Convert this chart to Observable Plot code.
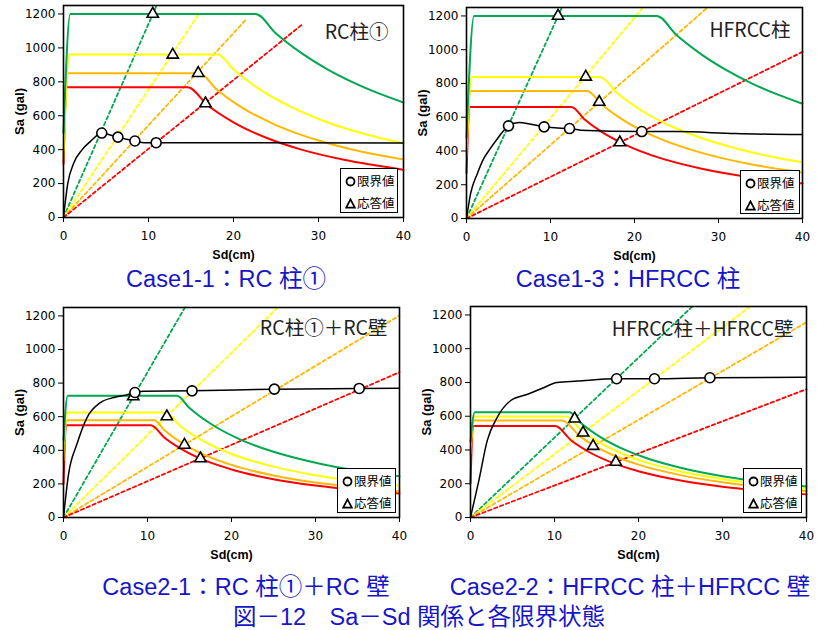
<!DOCTYPE html>
<html>
<head>
<meta charset="utf-8">
<script src="https://cdn.jsdelivr.net/npm/d3@7"></script>
<script src="https://cdn.jsdelivr.net/npm/@observablehq/plot@0.6"></script>
<style>
  html, body { margin: 0; padding: 0; background: #fff; }
  #root { position: relative; width: 817px; height: 630px; overflow: hidden; background: #fff; }
  .panel { position: absolute; }
  .panel svg { overflow: visible; }
  .legend { position: absolute; box-sizing: border-box; border: 1.6px solid #000; background: #fff;
            font-family: "Noto Sans CJK JP", sans-serif; font-size: 12.5px; color: #000; }
  .legend .item { position: absolute; left: 4px; display: flex; align-items: center; gap: 1px; line-height: 14px; white-space: nowrap; }
  .caption { position: absolute; text-align: center; white-space: nowrap; color: #1616c8;
             font-family: "Liberation Sans", "Noto Sans CJK JP", sans-serif; font-size: 23.5px; line-height: 28px; }
</style>
</head>
<body>
<div id="root"></div>
<script>
// ---------- tick labels & texts ----------
const xTicks = [0, 10, 20, 30, 40];
const yTicks = [0, 200, 400, 600, 800, 1000, 1200];
const panelLabels = ["RC柱①", "HFRCC柱", "RC柱①＋RC壁", "HFRCC柱＋HFRCC壁"];
const caseTitles = ["Case1-1：RC 柱①", "Case1-3：HFRCC 柱", "Case2-1：RC 柱①＋RC 壁", "Case2-2：HFRCC 柱＋HFRCC 壁"];
const figTitle = "図－12　Sa－Sd 関係と各限界状態";
const legendLabels = ["限界値", "応答値"];
const xLabel = "Sd(cm)";
const yLabel = "Sa (gal)";

// ---------- Case1-1 : RC柱① ----------
const p1Green  = [[0,500],[0.8,1200],[22.6,1200],[25,1085],[28,969],[31,875],[34,798],[37,733],[40,678]];
const p1Yellow = [[0,400],[0.7,961],[18.15,961],[20,872],[23,758],[26,671],[30,581],[35,498],[40,437]];
const p1Orange = [[0,350],[0.5,851],[16.0,851],[18,756],[21,648],[25,545],[30,454],[35,389],[40,342]];
const p1Red    = [[0,315],[0.4,768],[14.6,768],[17,660],[20,561],[24,467],[28,400],[33,340],[40,282]];
const p1Black  = [[0,0],[0.5,200],[1.2,320],[2.2,400],[3.2,450],[4.5,498],[5.5,487],[6.4,474],[7.4,461],[8.4,451],[9.5,441],[10.9,441],[40,440]];
const p1Circles   = [[4.5,498],[6.4,474],[8.4,451],[10.9,441]];
const p1Triangles = [[10.5,1200],[12.85,959],[15.85,851],[16.7,672]];
const p1DashEnds  = [[10.95,1250],[16.0,1206],[21.45,1166],[28.05,1137]];

// ---------- Case1-3 : HFRCC柱 ----------
const p2Green  = [[0,480],[0.9,1200],[22.65,1200],[25,1087],[28,971],[31,877],[34,799],[37,735],[40,680]];
const p2Yellow = [[0,420],[0.6,839],[15.87,839],[18,740],[21,634],[25,533],[30,444],[35,380],[40,333]];
const p2Orange = [[0,370],[0.5,756],[14.4,756],[16,680],[19,573],[23,473],[28,389],[34,320],[40,273]];
const p2Red    = [[0,270],[0.4,661],[12.5,661],[14,590],[16,516],[19,435],[23,359],[28,295],[34,243],[40,207]];
const p2Black  = [[0,0],[0.5,150],[1.3,267],[2.0,350],[2.7,405],[3.7,474],[5.0,549],[6.3,568],[7.5,560],[9.24,543],[10.5,537],[12.26,533],[13.6,523],[20.87,515],[25,515],[32,503],[40,497]];
const p2Circles   = [[5.0,549],[9.24,543],[12.26,533],[20.87,515]];
const p2Triangles = [[10.9,1200],[14.2,839],[15.8,690],[18.25,450]];
const p2DashEnds  = [[11.35,1250],[21.0,1250],[28.7,1250],[40,987]];

// ---------- Case2-1 : RC柱①＋RC壁 ----------
const p3Green  = [[0,460],[0.5,724],[13.5,724],[15,652],[18,543],[21,465],[25,391],[30,326],[35,279],[40,245]];
const p3Yellow = [[0,400],[0.4,625],[12.1,625],[14,540],[17,445],[20,378],[25,303],[30,252],[35,216],[40,189]];
const p3Orange = [[0,340],[0.4,579],[10.8,579],[12,521],[14.4,434],[17,368],[20,313],[25,250],[30,208],[35,179],[40,156]];
const p3Red    = [[0,200],[0.3,549],[10.4,549],[12,476],[14,408],[16.3,350],[20,286],[25,228],[30,190],[35,163],[40,143]];
const p3Black  = [[0,0],[0.6,258],[1.6,437],[2.8,595],[4.4,684],[6.0,714],[7.5,730],[8.5,744],[9.5,752],[15.3,754],[25.1,764],[35.2,768],[40,770]];
const p3Circles   = [[8.5,744],[15.3,754],[25.1,764],[35.2,768]];
const p3Triangles = [[8.3,720],[12.3,601],[14.4,432],[16.3,351]];
const p3DashEnds  = [[14.45,1250],[25.5,1250],[40,1203],[40,865]];

// ---------- Case2-2 : HFRCC柱＋HFRCC壁 ----------
const p4Green  = [[0,450],[0.5,624],[11.8,624],[13,566],[15,491],[18,409],[21,351],[25,295],[30,245],[35,210],[40,184]];
const p4Yellow = [[0,420],[0.4,599],[11.4,599],[13,525],[15,455],[18,379],[21,325],[25,273],[30,228],[35,195],[40,171]];
const p4Orange = [[0,380],[0.4,575],[10.9,575],[13,482],[14.6,429],[17,369],[20,313],[25,251],[30,209],[35,179],[40,157]];
const p4Red    = [[0,200],[0.3,542],[10.1,542],[12,456],[14,391],[17,322],[20,274],[25,219],[30,182],[35,156],[40,137]];
const p4Black  = [[0,0],[1.0,220],[2.0,457],[3.2,595],[4.8,693],[6.8,730],[8.7,769],[10.3,800],[12.7,808],[17.4,822],[21.9,822],[28.5,828],[40,831]];
const p4Circles   = [[17.4,822],[21.9,822],[28.5,828]];
const p4Triangles = [[12.4,585],[13.4,502],[14.6,423],[17.3,329]];
const p4DashEnds  = [[26.4,1250],[33.3,1250],[40,1157],[40,760]];

// ---------- styling / layout ----------
const colors = ["#00a84f", "#ffff00", "#ffb800", "#ff0000"]; // green, yellow, orange, red

const panels = [
  {spectra:[p1Green,p1Yellow,p1Orange,p1Red], black:p1Black, circles:p1Circles, triangles:p1Triangles, dashEnds:p1DashEnds,
   left:0, top:0, width:410, height:262, mL:63, mR:7, mT:5, mB:45, labelDx:-15, labelDy:27,
   legend:{left:340, top:168, w:58, h:45}},
  {spectra:[p2Green,p2Yellow,p2Orange,p2Red], black:p2Black, circles:p2Circles, triangles:p2Triangles, dashEnds:p2DashEnds,
   left:410, top:0, width:407, height:263, mL:56, mR:15, mT:7, mB:45, labelDx:-12, labelDy:23,
   legend:{left:740, top:170, w:60, h:44}},
  {spectra:[p3Green,p3Yellow,p3Orange,p3Red], black:p3Black, circles:p3Circles, triangles:p3Triangles, dashEnds:p3DashEnds,
   left:0, top:295, width:410, height:267, mL:63, mR:11, mT:12, mB:45, labelDx:-12, labelDy:21,
   legend:{left:337, top:468, w:59, h:45}},
  {spectra:[p4Green,p4Yellow,p4Orange,p4Red], black:p4Black, circles:p4Circles, triangles:p4Triangles, dashEnds:p4DashEnds,
   left:410, top:295, width:407, height:267, mL:60, mR:11, mT:11, mB:45, labelDx:-13, labelDy:23,
   legend:{left:743, top:468, w:59, h:45}}
];

const root = document.getElementById("root");
const X = d => d[0], Y = d => d[1];

panels.forEach((p, i) => {
  const marks = [];
  // dashed response lines from origin
  p.dashEnds.forEach((e, k) => {
    marks.push(Plot.line([[0,0], e], {x: X, y: Y, stroke: colors[k], strokeWidth: 1.8, strokeDasharray: "3.5,2.8"}));
  });
  // demand spectra (draw red first, green last)
  for (let k = 3; k >= 0; k--) {
    marks.push(Plot.line(p.spectra[k], {x: X, y: Y, stroke: colors[k], strokeWidth: 2, curve: "monotone-x"}));
  }
  // capacity curve
  marks.push(Plot.line(p.black, {x: X, y: Y, stroke: "#000", strokeWidth: 1.5, curve: "monotone-x"}));
  // points
  marks.push(Plot.dot(p.triangles, {x: X, y: Y, symbol: "triangle", r: 4.2, fill: "#fff", stroke: "#000", strokeWidth: 1.6}));
  marks.push(Plot.dot(p.circles, {x: X, y: Y, r: 5, fill: "#fff", stroke: "#000", strokeWidth: 1.6}));
  // frame & axes
  marks.push(Plot.frame({stroke: "#000", strokeWidth: 1.6}));
  marks.push(Plot.axisY({ticks: yTicks, tickSize: 5, tickPadding: 3, tickFormat: d => String(d), label: null}));
  marks.push(Plot.axisX({ticks: xTicks, tickSize: 5, tickPadding: 9, tickFormat: d => String(d), label: null}));
  // axis titles
  marks.push(Plot.text([yLabel], {text: d => d, frameAnchor: "left", dx: -44, rotate: -90, fontWeight: "bold",
    fontSize: 13, fontFamily: "Liberation Sans, Arial, sans-serif", lineAnchor: "middle", textAnchor: "middle"}));
  marks.push(Plot.text([xLabel], {text: d => d, frameAnchor: "bottom", dy: 37, fontWeight: "bold",
    fontSize: 12.5, fontFamily: "Liberation Sans, Arial, sans-serif", lineAnchor: "middle", textAnchor: "middle"}));
  // panel label
  marks.push(Plot.text([panelLabels[i]], {text: d => d, frameAnchor: "top-right", dx: p.labelDx, dy: p.labelDy,
    textAnchor: "end", lineAnchor: "middle", fontSize: 19.5, fontFamily: "Noto Sans CJK JP, sans-serif", fill: "#222"}));

  const chart = Plot.plot({
    width: p.width, height: p.height,
    marginLeft: p.mL, marginRight: p.mR, marginTop: p.mT, marginBottom: p.mB,
    x: {domain: [0, 40]},
    y: {domain: [0, 1250]},
    style: {fontFamily: "DejaVu Sans, sans-serif", fontSize: "12px", color: "#000", background: "transparent", overflow: "visible"},
    marks
  });
  const wrap = document.createElement("div");
  wrap.className = "panel";
  wrap.style.left = p.left + "px";
  wrap.style.top = p.top + "px";
  wrap.appendChild(chart);
  root.appendChild(wrap);

  // legend box
  const lg = document.createElement("div");
  lg.className = "legend";
  Object.assign(lg.style, {left: p.legend.left + "px", top: p.legend.top + "px", width: p.legend.w + "px", height: p.legend.h + "px"});
  const symbols = [
    '<svg width="11" height="11"><circle cx="5.5" cy="5.5" r="4" fill="#fff" stroke="#000" stroke-width="1.8"/></svg>',
    '<svg width="11" height="11"><path d="M5.5,1.3 L9.8,9.6 L1.2,9.6 Z" fill="#fff" stroke="#000" stroke-width="1.7"/></svg>'
  ];
  legendLabels.forEach((t, k) => {
    const it = document.createElement("div");
    it.className = "item";
    it.style.top = (k === 0 ? 5 : 27) + "px";
    it.innerHTML = symbols[k] + "<span>" + t + "</span>";
    lg.appendChild(it);
  });
  root.appendChild(lg);
});

// captions
const capPos = [[226, 265], [628, 265], [246, 573], [630, 573]];
caseTitles.forEach((t, i) => {
  const c = document.createElement("div");
  c.className = "caption";
  c.textContent = t;
  c.style.left = (capPos[i][0] - 200) + "px";
  c.style.width = "400px";
  c.style.top = capPos[i][1] + "px";
  root.appendChild(c);
});
const ft = document.createElement("div");
ft.className = "caption";
ft.textContent = figTitle;
ft.style.left = "119px";
ft.style.width = "600px";
ft.style.top = "603px";
root.appendChild(ft);
</script>
</body>
</html>
